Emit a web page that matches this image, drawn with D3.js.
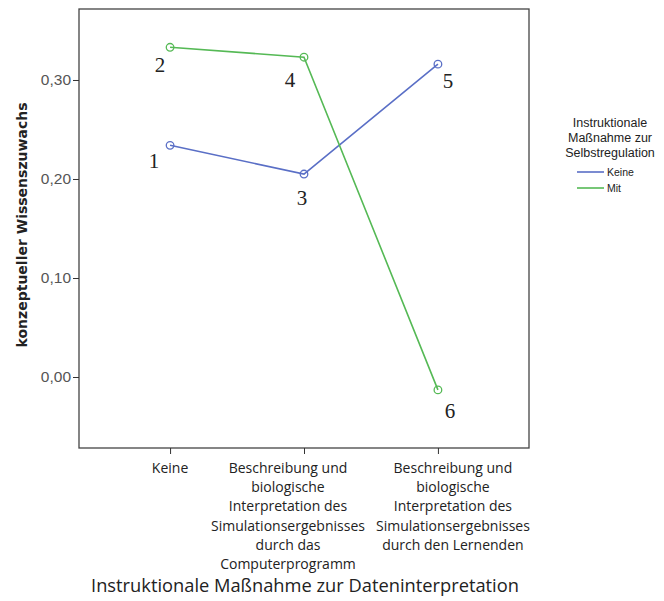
<!DOCTYPE html>
<html><head><meta charset="utf-8">
<script src="https://cdn.jsdelivr.net/npm/d3@7"></script>
<style>body{margin:0;background:#fff;} svg{display:block;}</style>
</head><body>
<svg id="c" width="664" height="601"></svg>
<script>
const categories = [
  ["Keine"],
  ["Beschreibung und","biologische","Interpretation des","Simulationsergebnisses","durch das","Computerprogramm"],
  ["Beschreibung und","biologische","Interpretation des","Simulationsergebnisses","durch den Lernenden"]
];
const categoryKeys = ["k1","k2","k3"];
const seriesNames = ["Keine","Mit"];
const keineValues = [0.234, 0.205, 0.316];
const mitValues = [0.333, 0.323, -0.013];
const pointLabels = [["1","3","5"],["2","4","6"]];
const yTicks = [0.0, 0.1, 0.2, 0.3];
const colors = ["#5a6fc6","#55b955"];

const svg = d3.select("#c");
const L = 79, R = 529, T = 9, B = 448;
const x = d3.scalePoint().domain(categoryKeys).range([L, R]).padding(0.68);
const y = d3.scaleLinear().domain([-0.0717, 0.3717]).range([B, T]);

// frame
svg.append("rect").attr("x", L).attr("y", T).attr("width", R - L).attr("height", B - T)
  .attr("fill", "none").attr("stroke", "#444").attr("stroke-width", 1.3);

// y axis
const ya = svg.append("g").attr("transform", `translate(${L},0)`)
  .call(d3.axisLeft(y).tickValues(yTicks).tickSize(6).tickFormat(d => d3.format(".2f")(d).replace(".", ",")));
ya.select(".domain").remove();
ya.selectAll("line").attr("stroke", "#333");
ya.selectAll("text").attr("font-family", "Liberation Sans, Arial, sans-serif").attr("font-size", 15.5).attr("fill", "#555").attr("x", -8);

// x axis
const xa = svg.append("g").attr("transform", `translate(0,${B})`)
  .call(d3.axisBottom(x).tickSize(6).tickFormat(""));
xa.select(".domain").remove();
xa.selectAll("line").attr("stroke", "#333");
const labelShift = [0, -16, 15];
categoryKeys.forEach((k, i) => {
  const cx = x(k) + labelShift[i];
  const t = svg.append("text").attr("x", cx).attr("y", 473)
    .attr("text-anchor", "middle").attr("font-family", "Open Sans, sans-serif")
    .attr("font-size", 14).attr("fill", "#222");
  categories[i].forEach((line, j) => {
    t.append("tspan").attr("x", cx).attr("dy", j === 0 ? 0 : 19.2).text(line);
  });
});

// axis titles
svg.append("text").attr("x", 305).attr("y", 592).attr("text-anchor", "middle")
  .attr("font-family", "Open Sans, sans-serif").attr("font-size", 18.3).attr("fill", "#222")
  .text("Instruktionale Maßnahme zur Dateninterpretation");
svg.append("text").attr("transform", "translate(27,225) rotate(-90)").attr("text-anchor", "middle")
  .attr("font-family", "DejaVu Sans, sans-serif").attr("font-size", 14).attr("font-weight", "bold").attr("fill", "#222")
  .text("konzeptueller Wissenszuwachs");

// series
const series = [keineValues, mitValues];
const line = d3.line().x((d, i) => x(categoryKeys[i])).y(d => y(d));
const labelOffsets = [[[-16, 23], [-2, 31], [10, 24]], [[-10, 25], [-14, 30], [12, 28]]];
series.forEach((vals, s) => {
  svg.append("path").datum(vals).attr("d", line).attr("fill", "none")
    .attr("stroke", colors[s]).attr("stroke-width", 1.6);
  svg.selectAll(null).data(vals).enter().append("circle")
    .attr("cx", (d, i) => x(categoryKeys[i])).attr("cy", d => y(d)).attr("r", 3.8)
    .attr("fill", "none").attr("stroke", colors[s]).attr("stroke-width", 1.3);
  svg.selectAll(null).data(vals).enter().append("text")
    .attr("x", (d, i) => x(categoryKeys[i]) + labelOffsets[s][i][0])
    .attr("y", (d, i) => y(d) + labelOffsets[s][i][1])
    .attr("text-anchor", "middle").attr("font-family", "Liberation Serif, Times New Roman, serif")
    .attr("font-size", 21).attr("fill", "#222")
    .text((d, i) => pointLabels[s][i]);
});

// legend
const lg = svg.append("g");
["Instruktionale", "Maßnahme zur", "Selbstregulation"].forEach((t, i) => {
  lg.append("text").attr("x", 610).attr("y", 127 + i * 15).attr("text-anchor", "middle")
    .attr("font-family", "Liberation Sans, Arial, sans-serif").attr("font-size", 12.5).attr("fill", "#222").text(t);
});
seriesNames.forEach((n, i) => {
  const yy = 172 + i * 16;
  lg.append("line").attr("x1", 577).attr("x2", 604).attr("y1", yy).attr("y2", yy)
    .attr("stroke", colors[i]).attr("stroke-width", 1.6);
  lg.append("text").attr("x", 607).attr("y", yy + 4).attr("font-family", "Liberation Sans, Arial, sans-serif")
    .attr("font-size", 10.5).attr("fill", "#222").text(n);
});
</script>
</body></html>
